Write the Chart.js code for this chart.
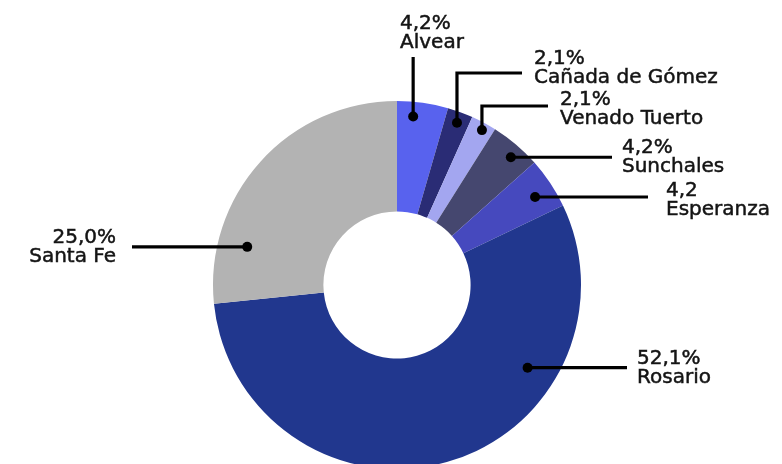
<!DOCTYPE html>
<html>
<head>
<meta charset="utf-8">
<script src="https://cdn.jsdelivr.net/npm/chart.js@4.4.1/dist/chart.umd.min.js"></script>
<style>
  html, body { margin: 0; padding: 0; background: #fff; overflow: hidden; }
  #wrap { position: relative; width: 782px; height: 471px; }
</style>
</head>
<body>
<div id="wrap"><canvas id="ciudades"></canvas></div>
<script>
// datos
const categories = ["Alvear", "Cañada de Gómez", "Venado Tuerto", "Sunchales", "Esperanza", "Rosario", "Santa Fe"];
const shares = [4.2, 2.1, 2.1, 4.2, 4.2, 52.1, 25.0];
const shareLabels = ["4,2%", "2,1%", "2,1%", "4,2%", "4,2", "52,1%", "25,0%"];
const sliceColors = ["#5862ee", "#2a2c75", "#a3a6f0", "#45476f", "#4649be", "#21378e", "#b3b3b3"];

// callouts: dot spot inside the slice (f = along the arc, r = share of radius),
// where the leader line goes, and where the text sits
const callouts = [
  { f: 0.34, r: 0.92, upTo: 57, tx: 400, ty: 24, align: "left" },
  { f: 0.52, r: 0.94, upTo: 73, toX: 522, tx: 534, ty: 59, align: "left" },
  { f: 0.57, r: 0.96, upTo: 106, toX: 548, tx: 560, ty: 100, align: "left" },
  { f: 0.59, r: 0.93, toX: 612, tx: 622, ty: 148, align: "left" },
  { f: 0.57, r: 0.89, toX: 648, tx: 666, ty: 191, align: "left" },
  { f: 0.29, r: 0.84, toX: 627, tx: 637, ty: 359, align: "left" },
  { f: 0.21, r: 0.84, toX: 132, tx: 116, ty: 238, align: "right" },
];

const calloutPlugin = {
  id: "callouts",
  afterDatasetsDraw(chart) {
    const ctx = chart.ctx;
    const arcs = chart.getDatasetMeta(0).data;
    ctx.save();
    arcs.forEach((arc, i) => {
      const c = callouts[i];
      const p = arc.getProps(["x", "y", "startAngle", "endAngle", "outerRadius"], true);
      const a = p.startAngle + c.f * (p.endAngle - p.startAngle);
      const dx = p.x + Math.cos(a) * p.outerRadius * c.r;
      const dy = p.y + Math.sin(a) * p.outerRadius * c.r;

      ctx.strokeStyle = "#000";
      ctx.lineWidth = 3.2;
      ctx.lineJoin = "miter";
      ctx.beginPath();
      ctx.moveTo(dx, dy);
      if (c.upTo !== undefined) {
        ctx.lineTo(dx, c.upTo);
        if (c.toX !== undefined) ctx.lineTo(c.toX, c.upTo);
      } else {
        ctx.lineTo(c.toX, dy);
      }
      ctx.stroke();

      ctx.fillStyle = "#000";
      ctx.beginPath();
      ctx.arc(dx, dy, 5, 0, Math.PI * 2);
      ctx.fill();

      // text, with a hairline stroke to get the medium weight
      ctx.fillStyle = "#141414";
      ctx.strokeStyle = "#141414";
      ctx.lineWidth = 0.5;
      ctx.font = "20px 'DejaVu Sans'";
      ctx.textAlign = c.align;
      ctx.textBaseline = "middle";
      [shareLabels[i], categories[i]].forEach((t, k) => {
        ctx.fillText(t, c.tx, c.ty + k * 18.5);
        ctx.strokeText(t, c.tx, c.ty + k * 18.5);
      });
    });
    ctx.restore();
  },
};

new Chart(document.getElementById("ciudades"), {
  type: "doughnut",
  data: {
    labels: categories,
    datasets: [
      {
        data: shares,
        backgroundColor: sliceColors,
        borderWidth: 0,
      },
    ],
  },
  options: {
    responsive: true,
    maintainAspectRatio: false,
    animation: false,
    cutout: "40%",
    layout: { padding: { left: 213, right: 201, top: 101, bottom: 2 } },
    plugins: {
      legend: { display: false },
      tooltip: { enabled: false },
    },
  },
  plugins: [calloutPlugin],
});
</script>
</body>
</html>
